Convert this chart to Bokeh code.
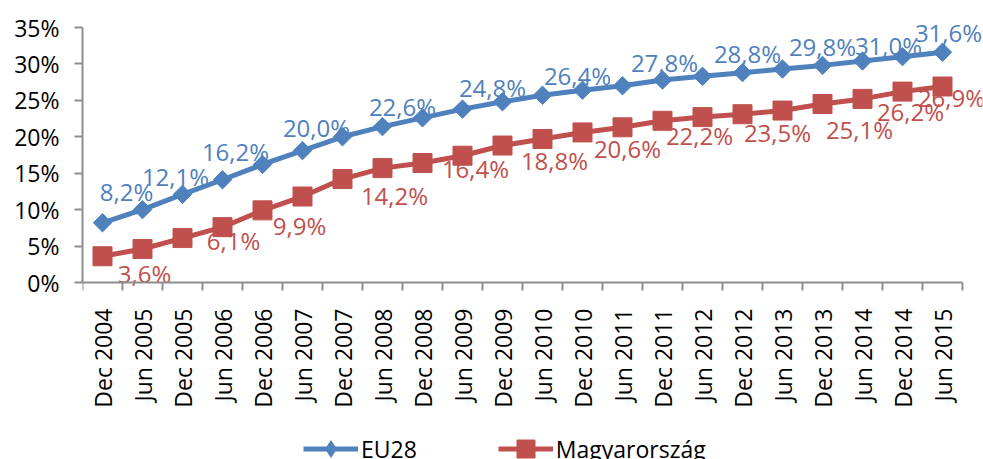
import math
from bokeh.plotting import figure
from bokeh.models import (Range1d, FixedTicker, CustomJSTickFormatter, PrintfTickFormatter,
                          ColumnDataSource, Legend, LegendItem)
from bokeh.core.properties import value
from bokeh.embed import file_html
from bokeh.resources import INLINE

# ---- data ----
categories = ["Dec 2004", "Jun 2005", "Dec 2005", "Jun 2006", "Dec 2006", "Jun 2007",
              "Dec 2007", "Jun 2008", "Dec 2008", "Jun 2009", "Dec 2009", "Jun 2010",
              "Dec 2010", "Jun 2011", "Dec 2011", "Jun 2012", "Dec 2012", "Jun 2013",
              "Dec 2013", "Jun 2014", "Dec 2014", "Jun 2015"]
eu28 = [8.2, 10.0, 12.1, 14.1, 16.2, 18.1, 20.0, 21.4, 22.6, 23.8, 24.8, 25.7,
        26.4, 27.0, 27.8, 28.3, 28.8, 29.3, 29.8, 30.4, 31.0, 31.6]
hungary = [3.6, 4.6, 6.1, 7.6, 9.9, 11.8, 14.2, 15.7, 16.4, 17.4, 18.8, 19.7,
           20.6, 21.3, 22.2, 22.7, 23.1, 23.6, 24.5, 25.2, 26.2, 26.9]
label_idx = [0, 2, 4, 6, 8, 10, 12, 14, 16, 18, 20, 21]
eu28_labels = ["8,2%", "12,1%", "16,2%", "20,0%", "22,6%", "24,8%", "26,4%",
               "27,8%", "28,8%", "29,8%", "31,0%", "31,6%"]
hungary_labels = ["3,6%", "6,1%", "9,9%", "14,2%", "16,4%", "18,8%", "20,6%",
                  "22,2%", "23,5%", "25,1%", "26,2%", "26,9%"]
y_ticks = [0, 5, 10, 15, 20, 25, 30, 35]

# label placement (screen pixels, style only)
eu_dx = [24, -7, -27, -26, -20, -10, -5, 2, 5, 0, -14, 6]
eu_dy = [-31, -18, -13, -9, -11, -14, -15, -17, -19, -19, -11, -20]
hu_dx = [42, 51, 37, 52, 53, 52, 45, 37, 35, 37, 8, 9]
hu_dy = [17, 2, 15, 16, 5, 15, 16, 15, 18, 25, 20, 11]

BLUE = "#4F81BD"
RED = "#C0504D"
AXIS = "#8E8E8E"
FONT = "Open Sans"

n = len(categories)
xs = [i + 0.5 for i in range(n)]

# frame spans the whole lower area; the x axis sits at y = 0 (fixed_location)
px_per_unit = 255 / 35.0
y_top = 35 + 4 / px_per_unit
y_bottom = -(459 - 282) / px_per_unit

p = figure(width=983, height=459, x_range=Range1d(0, n + 0.5), y_range=Range1d(y_bottom, y_top),
           output_backend="svg", toolbar_location=None,
           min_border_left=82, min_border_right=1, min_border_top=23, min_border_bottom=0)
p.outline_line_color = None
p.xgrid.visible = False
p.ygrid.visible = False
p.background_fill_color = "white"
p.border_fill_color = "white"

# axes
xa = p.xaxis[0]
xa.fixed_location = 0
xa.bounds = (0, n)
xa.ticker = FixedTicker(ticks=xs, minor_ticks=list(range(n + 1)))
xa.formatter = CustomJSTickFormatter(args=dict(labels=categories),
                                     code="return labels[Math.floor(tick)];")
xa.major_tick_out = 0
xa.major_tick_in = 0
xa.minor_tick_out = 8
xa.minor_tick_in = 0
xa.minor_tick_line_color = AXIS
xa.minor_tick_line_width = 2
xa.axis_line_color = AXIS
xa.axis_line_width = 2
xa.major_label_orientation = math.pi / 2
xa.major_label_standoff = 18
xa.major_label_text_font = FONT
xa.major_label_text_font_size = "23px"
xa.major_label_text_color = "black"

ya = p.yaxis[0]
ya.bounds = (0, 35)
ya.ticker = FixedTicker(ticks=y_ticks)
ya.formatter = PrintfTickFormatter(format="%d%%")
ya.major_tick_out = 8
ya.major_tick_in = 0
ya.minor_tick_out = 0
ya.minor_tick_in = 0
ya.major_tick_line_color = AXIS
ya.major_tick_line_width = 2
ya.axis_line_color = AXIS
ya.axis_line_width = 2
ya.major_label_standoff = 15
ya.major_label_text_font = FONT
ya.major_label_text_font_size = "23px"
ya.major_label_text_color = "black"

# sources
eu_src = ColumnDataSource(dict(x=xs, y=eu28))
hu_src = ColumnDataSource(dict(x=xs, y=hungary))
eu_lab = ColumnDataSource(dict(x=[xs[i] for i in label_idx], y=[eu28[i] for i in label_idx],
                               text=eu28_labels, dx=eu_dx, dy=eu_dy))
hu_lab = ColumnDataSource(dict(x=[xs[i] for i in label_idx], y=[hungary[i] for i in label_idx],
                               text=hungary_labels, dx=hu_dx, dy=hu_dy))

# data labels first (series are drawn over them, as in the reference)
p.text("x", "y", text="text", source=eu_lab, x_offset="dx", y_offset="dy",
       text_font=value(FONT), text_font_size="24px", text_color=BLUE,
       text_align="center", text_baseline="middle")
p.text("x", "y", text="text", source=hu_lab, x_offset="dx", y_offset="dy",
       text_font=value(FONT), text_font_size="24px", text_color=RED,
       text_align="center", text_baseline="middle")

# series
eu_line = p.line("x", "y", source=eu_src, line_color=BLUE, line_width=5)
eu_mark = p.scatter("x", "y", source=eu_src, marker="square", angle=math.pi / 4,
                    size=13, fill_color=BLUE, line_color=BLUE)
eu_key = p.scatter("x", "y", source=eu_src, marker="diamond", size=0,
                   fill_color=BLUE, line_color=None)
hu_line = p.line("x", "y", source=hu_src, line_color=RED, line_width=5)
hu_mark = p.scatter("x", "y", source=hu_src, marker="square", size=19,
                    fill_color=RED, line_color=RED)

# legend (inside the frame, which covers the bottom strip)
legend = Legend(items=[LegendItem(label="EU28", renderers=[eu_line, eu_key]),
                       LegendItem(label="Magyarország", renderers=[hu_line, hu_mark])],
                location=(221, -12), orientation="horizontal",
                glyph_width=55, glyph_height=45, label_standoff=3, spacing=81,
                padding=0, margin=0, border_line_color=None, background_fill_alpha=0,
                label_text_font=FONT, label_text_font_size="23px", label_text_color="black")
p.add_layout(legend, "center")

open("out.html", "w").write(file_html(p, INLINE))
